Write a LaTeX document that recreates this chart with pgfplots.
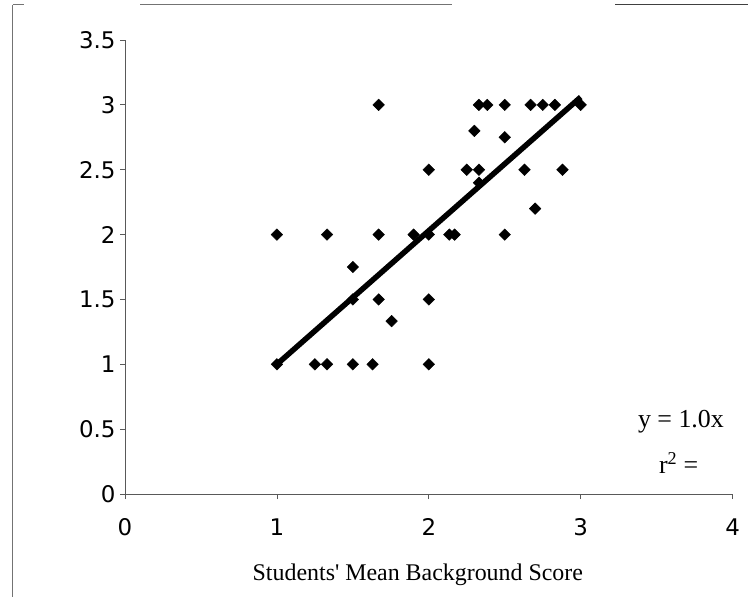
\documentclass[border=0pt]{standalone}
\usepackage{fontspec}
\setmainfont{Liberation Serif}
\newfontfamily\tickfont{DejaVu Sans}
\usepackage{pgfplots}
\pgfplotsset{compat=1.18}
\pgfplotstableread{
x y
1 2
1.33 2
1.67 3
1.67 2
1.9 2
2 2.5
2 2
2.135 2
2.17 2
1.5 1.75
1.5 1.5
1.67 1.5
1.755 1.333
2 1.5
1 1
1.25 1
1.33 1
1.5 1
1.63 1
2 1
2.33 3
2.385 3
2.5 3
2.67 3
2.75 3
2.83 3
3 3
2.3 2.8
2.5 2.75
2.25 2.5
2.33 2.5
2.63 2.5
2.88 2.5
2.33 2.4
2.7 2.2
2.5 2
}\datatable
\begin{document}
\begin{tikzpicture}
\useasboundingbox (0,0) rectangle (748bp,597bp);
\begin{axis}[
  at={(125bp,103bp)}, anchor=south west,
  x=151.9bp, y=129.7bp,
  xmin=0, xmax=4, ymin=0, ymax=3.5,
  axis lines=left,
  axis line style={draw=black!65, line width=1bp, -},
  xtick={0,1,2,3,4}, ytick={0,0.5,1,1.5,2,2.5,3,3.5},
  tick align=outside, major tick length=5bp,
  tick style={draw=black!65, line width=0.8bp},
  /pgf/number format/assume math mode=true,
  ticklabel style={font=\tickfont\fontsize{23}{25}\selectfont, text=black},
  yticklabel style={xshift=-1bp},
  xticklabel style={yshift=-16bp},
  xlabel={Students\textquotesingle{} Mean Background Score},
  xlabel style={at={(axis description cs:0.482,-0.1786)}, anchor=center, font=\fontsize{24}{26}\selectfont},
  clip=false,
]
\addplot[only marks, mark=square*, mark size=4.1bp, mark options={rotate=45, fill=black, draw=black}] table[x=x,y=y] {\datatable};
\addplot[black, line width=5.5bp, no marks] coordinates {(1,1.0) (3,3.06)};
\node[font=\fontsize{26}{28}\selectfont] at (axis cs:3.66,0.555) {y = 1.0x};
\node[font=\fontsize{26}{28}\selectfont] at (axis cs:3.645,0.239) {r\textsuperscript{2} =};
\end{axis}
\draw[black!55, line width=1bp] (12.5bp,0) -- (12.5bp,592bp);
\draw[black!55, line width=1bp] (12.5bp,592bp) -- (24bp,592bp);
\draw[black!55, line width=1bp] (140bp,592bp) -- (452bp,592bp);
\draw[black!75, line width=1bp] (615bp,592bp) -- (748bp,592bp);
\end{tikzpicture}
\end{document}
